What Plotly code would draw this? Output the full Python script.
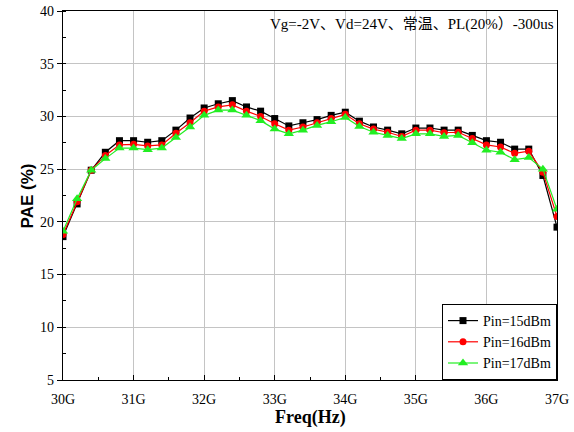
import numpy as np
import plotly.graph_objects as go

# Frequency sweep, 30 GHz to 37 GHz in 0.2 GHz steps
freq_ghz = [30.0, 30.2, 30.4, 30.6, 30.8, 31.0, 31.2, 31.4, 31.6, 31.8,
            32.0, 32.2, 32.4, 32.6, 32.8, 33.0, 33.2, 33.4, 33.6, 33.8,
            34.0, 34.2, 34.4, 34.6, 34.8, 35.0, 35.2, 35.4, 35.6, 35.8,
            36.0, 36.2, 36.4, 36.6, 36.8, 37.0]

# PAE (%) for each input power level
pae_pin15 = [18.6, 21.7, 24.9, 26.6, 27.7, 27.7, 27.55, 27.7, 28.7, 29.85,
             30.8, 31.2, 31.5, 30.9, 30.5, 29.8, 29.1, 29.4, 29.7, 30.1,
             30.4, 29.55, 29.0, 28.7, 28.35, 28.9, 28.9, 28.7, 28.7, 28.2,
             27.7, 27.55, 26.9, 26.9, 24.4, 19.5]
pae_pin16 = [18.8, 21.9, 24.9, 26.3, 27.3, 27.35, 27.2, 27.3, 28.4, 29.4,
             30.5, 30.9, 31.1, 30.5, 30.0, 29.3, 28.7, 29.0, 29.4, 29.8,
             30.2, 29.3, 28.8, 28.5, 28.1, 28.7, 28.7, 28.45, 28.5, 27.9,
             27.3, 27.1, 26.5, 26.7, 24.7, 20.5]
pae_pin17 = [19.1, 22.2, 24.9, 26.0, 27.0, 27.0, 26.85, 27.0, 28.0, 29.0,
             30.1, 30.6, 30.6, 30.1, 29.6, 28.8, 28.35, 28.7, 29.15, 29.5,
             29.9, 29.05, 28.5, 28.2, 27.9, 28.35, 28.35, 28.1, 28.2, 27.5,
             26.8, 26.6, 25.9, 26.1, 25.0, 21.2]

series_names = ["Pin=15dBm", "Pin=16dBm", "Pin=17dBm"]
x_tick_vals = [30, 31, 32, 33, 34, 35, 36, 37]
x_tick_text = ["30G", "31G", "32G", "33G", "34G", "35G", "36G", "37G"]
y_tick_vals = [5, 10, 15, 20, 25, 30, 35, 40]
condition_text = "Vg=-2V、Vd=24V、常温、PL(20%）-300us"
x_title = "Freq(Hz)"
y_title = "PAE (%)"

serif = "Liberation Serif, Noto Sans CJK SC, serif"
narrow_bold = "Liberation Sans Narrow, Liberation Sans, sans-serif"

styles = [
    dict(color="#000000", symbol="square", size=7),
    dict(color="#ff0000", symbol="circle", size=7),
    dict(color="#22ee22", symbol="triangle-up", size=9),
]

fig = go.Figure()
for name, vals, st in zip(series_names, [pae_pin15, pae_pin16, pae_pin17], styles):
    fig.add_trace(go.Scatter(
        x=freq_ghz, y=vals, name=name, mode="lines+markers",
        line=dict(color=st["color"], width=1.2),
        marker=dict(color=st["color"], symbol=st["symbol"], size=st["size"],
                    line=dict(width=0)),
    ))

# Test-condition note in the upper right of the plot
fig.add_annotation(
    text=condition_text, xref="paper", yref="paper", x=0.997, y=0.993,
    xanchor="right", yanchor="top", showarrow=False,
    font=dict(family=serif, size=15, color="#000000"),
)
# Axis titles placed explicitly
fig.add_annotation(
    text="<b>%s</b>" % x_title, xref="paper", yref="paper", x=0.5, y=-0.102,
    xanchor="center", yanchor="middle", showarrow=False,
    font=dict(family=serif, size=18, color="#000000"),
)
fig.add_annotation(
    text="<b>%s</b>" % y_title, xref="paper", yref="paper", x=-0.071, y=0.5,
    xanchor="center", yanchor="middle", showarrow=False, textangle=-90,
    font=dict(family=narrow_bold, size=17, color="#000000"),
)

fig.update_layout(
    width=574, height=432,
    margin=dict(l=63, r=17, t=11, b=52),
    paper_bgcolor="white", plot_bgcolor="white",
    font=dict(family=serif, color="#000000", size=14),
    showlegend=True,
    legend=dict(
        x=1.0, y=0.0, xanchor="right", yanchor="bottom",
        bgcolor="white", bordercolor="#000000", borderwidth=1,
        font=dict(family=serif, size=14, color="#000000"),
        tracegroupgap=0, itemwidth=30,
    ),
    xaxis=dict(
        range=[30, 37], tickvals=x_tick_vals, ticktext=x_tick_text,
        automargin=False,
        showgrid=True, gridcolor="#c4c4c4", gridwidth=1,
        showline=True, linecolor="#000000", linewidth=1.3, mirror=True,
        ticks="inside", ticklen=5, tickcolor="#000000",
        minor=dict(dtick=0.5, ticks="inside", ticklen=3, tickcolor="#000000", showgrid=False),
        zeroline=False, ticklabelstandoff=6,
        tickfont=dict(family=serif, size=14),
    ),
    yaxis=dict(
        range=[5, 40], tickvals=y_tick_vals,
        automargin=False,
        showgrid=True, gridcolor="#c4c4c4", gridwidth=1,
        showline=True, linecolor="#000000", linewidth=1.3, mirror=True,
        ticks="outside", ticklen=5, tickcolor="#000000",
        minor=dict(dtick=2.5, ticks="inside", ticklen=3, tickcolor="#000000", showgrid=False),
        zeroline=False,
        tickfont=dict(family=serif, size=14),
    ),
)

fig.write_html("out.html")
